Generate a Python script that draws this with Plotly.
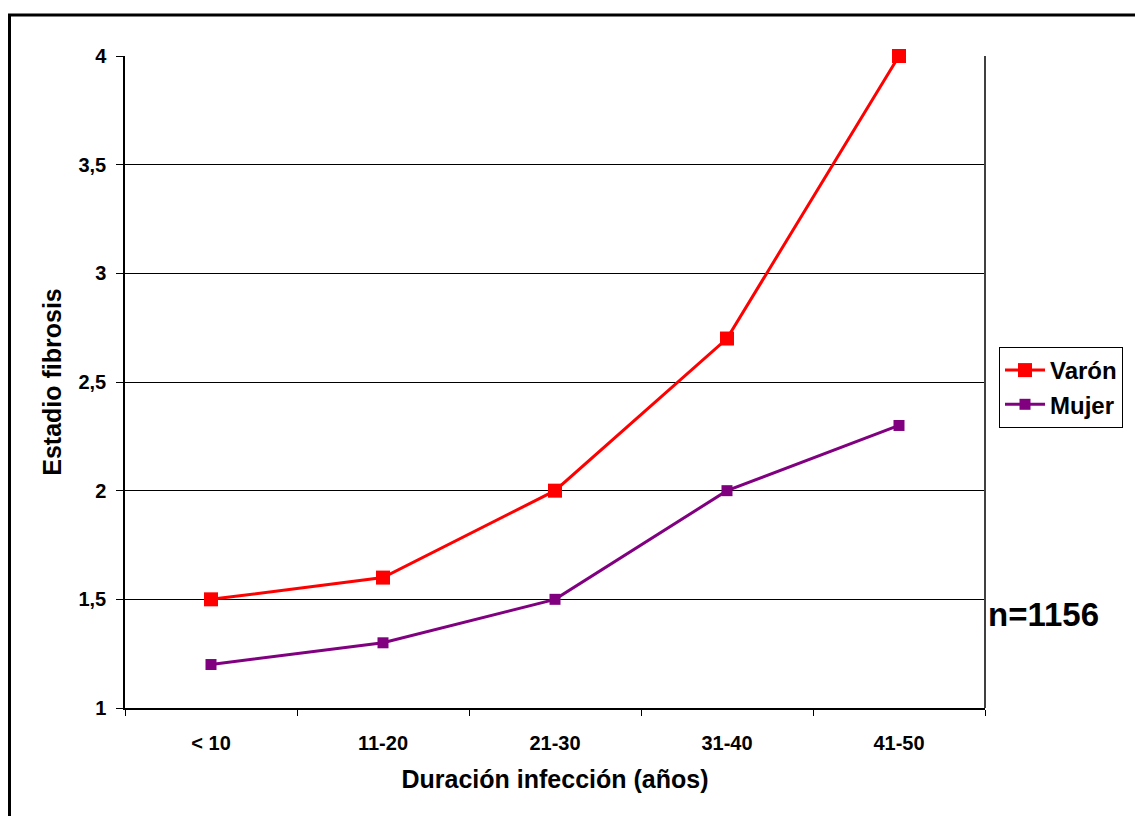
import plotly.graph_objects as go

# Fibrosis stage by duration of infection, split by sex
categories = ["< 10", "11-20", "21-30", "31-40", "41-50"]
varon = [1.5, 1.6, 2.0, 2.7, 4.0]
mujer = [1.2, 1.3, 1.5, 2.0, 2.3]
y_ticks = [1, 1.5, 2, 2.5, 3, 3.5, 4]

FONT = "Liberation Sans, Arial, sans-serif"

fig = go.Figure()
fig.add_trace(go.Scatter(
    x=categories, y=varon, name="Varón", mode="lines+markers",
    line=dict(color="#ff0000", width=3), cliponaxis=False,
    marker=dict(symbol="square", size=14, color="#ff0000"),
))
fig.add_trace(go.Scatter(
    x=categories, y=mujer, name="Mujer", mode="lines+markers",
    line=dict(color="#800080", width=3), cliponaxis=False,
    marker=dict(symbol="square", size=11, color="#800080"),
))

L, R, T, B = 125, 150, 56, 108
W, H = 1135, 816
pw, ph = W - L - R, H - T - B

def px(x):
    return (x - L) / pw

def py(y):
    return (H - B - y) / ph

fig.update_layout(
    width=W, height=H,
    margin=dict(l=L, r=R, t=T, b=B),
    paper_bgcolor="white", plot_bgcolor="white",
    separators=",.",
    font=dict(family=FONT, color="black"),
    showlegend=True,
    legend=dict(
        x=px(999), y=py(347), xanchor="left", yanchor="top",
        bordercolor="black", borderwidth=1, bgcolor="white",
        font=dict(size=24, weight="bold", family=FONT),
        itemwidth=40, tracegroupgap=0,
    ),
    xaxis=dict(
        type="category", range=[-0.5, 4.5],
        tickson="boundaries", ticks="outside", ticklen=6, tickcolor="black",
        showline=True, linecolor="black", linewidth=1.5,
        showgrid=False, zeroline=False,
        tickfont=dict(size=20, weight="bold", family=FONT),
        ticklabelstandoff=16,
        title=dict(text="Duración infección (años)", standoff=18,
                   font=dict(size=25, weight="bold", family=FONT)),
    ),
    yaxis=dict(
        range=[1, 4], tickvals=y_ticks,
        ticks="outside", ticklen=7, tickcolor="black",
        showline=True, linecolor="black", linewidth=1.5,
        showgrid=True, gridcolor="black", gridwidth=1,
        zeroline=False,
        tickfont=dict(size=20, weight="bold", family=FONT),
        ticklabelstandoff=6,
        title=dict(text="Estadio fibrosis", standoff=10,
                   font=dict(size=25, weight="bold", family=FONT)),
    ),
    annotations=[dict(
        text="n=1156", x=px(986), y=py(614), xref="paper", yref="paper",
        xanchor="left", yanchor="middle", showarrow=False,
        font=dict(size=33, weight="bold", family=FONT),
    )],
    shapes=[
        # right edge of the plot area
        dict(type="line", xref="paper", yref="paper", x0=1, x1=1, y0=0, y1=1,
             line=dict(color="#404040", width=2)),
        # outer frame around the whole chart
        dict(type="rect", xref="paper", yref="paper",
             x0=px(9.5), x1=px(1145), y0=py(830), y1=py(15),
             line=dict(color="black", width=3), fillcolor="rgba(0,0,0,0)"),
    ],
)

fig.write_html("out.html")
